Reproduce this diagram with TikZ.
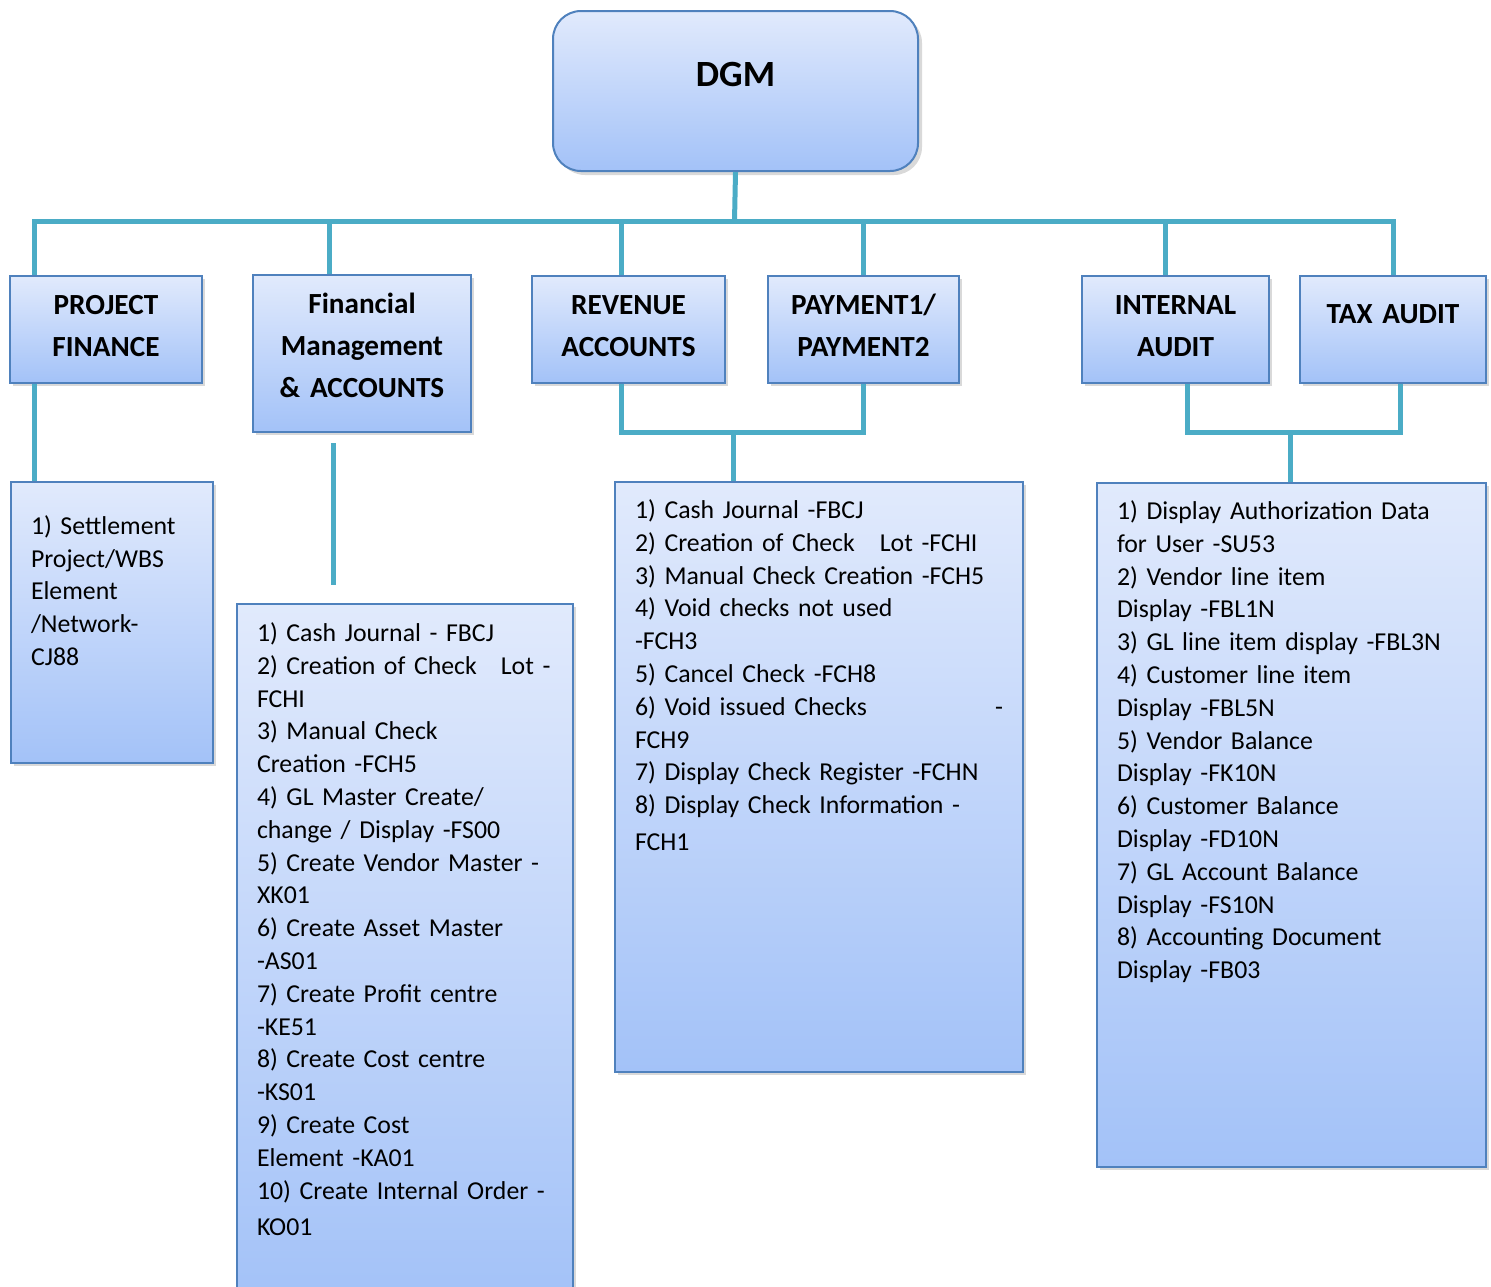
\documentclass[tikz,border=0pt]{standalone}
\usepackage{fontspec}
\setmainfont{Carlito}
\usetikzlibrary{shadows}

\definecolor{boxtop}{RGB}{225,234,252}
\definecolor{boxbot}{RGB}{163,194,248}
\definecolor{boxline}{RGB}{79,129,189}
\definecolor{linkcol}{RGB}{75,172,198}

\tikzstyle{chief} = [rectangle, rounded corners=14pt, draw=boxline, line width=1pt, top color=boxtop, bottom color=boxbot,
align=center, inner sep=0pt, anchor=north west, font=\bfseries\fontsize{18.5}{22}\selectfont,
drop shadow={shadow xshift=2pt, shadow yshift=-2pt, opacity=0.3}]
\tikzstyle{division} = [rectangle, draw=boxline, line width=1pt, top color=boxtop, bottom color=boxbot,
align=center, inner sep=0pt, anchor=north west, font=\bfseries\fontsize{14.6}{21}\selectfont,
text height=19.2pt, text depth=34.3pt, drop shadow={shadow xshift=1.5pt, shadow yshift=-1.5pt, opacity=0.3}]
\tikzstyle{tasklist} = [rectangle, draw=boxline, line width=1pt, top color=boxtop, bottom color=boxbot,
align=left, inner xsep=10pt, inner ysep=0pt, anchor=north west, font=\fontsize{12.9}{16.4}\selectfont,
drop shadow={shadow xshift=1.5pt, shadow yshift=-1.5pt, opacity=0.3}]
\tikzstyle{line} = [draw, linkcol, line width=2.5pt]

\begin{document}
\begin{tikzpicture}[x=0.5pt,y=-0.5pt]
\useasboundingbox (0,0) rectangle (1491,1286);

	%Top node
	\node[chief, text width=182.5pt, text height=37.9pt, text depth=42.1pt](DGM) at (552,10) {DGM};

	%Nodes for each of the sections under DGM
	\node[division, text width=96pt](PF) at (9,275) {PROJECT\\FINANCE};
	\node[division, text width=109pt, text depth=59.3pt](FM) at (252,274) {Financial\\Management\\\& ACCOUNTS};
	\node[division, text width=96.5pt](REV) at (531,275) {REVENUE\\ACCOUNTS};
	\node[division, text width=95.5pt](PAY) at (767,275) {PAYMENT1/\\PAYMENT2};
	\node[division, text width=93.5pt](INT) at (1081,275) {INTERNAL\\AUDIT};
	\node[division, text width=93pt, text height=23.7pt, text depth=29.8pt](TAX) at (1299,275) {TAX AUDIT};

	%Nodes for the transaction lists
	\node[tasklist, text width=81pt, text height=26.1pt, text depth=114.4pt](PFL) at (10,481) {%
	1) Settlement\\Project/WBS\\Element\\/Network-\\CJ88};
	\node[tasklist, text width=148pt, text height=18.7pt, text depth=329.8pt](FML) at (236,603) {%
	1) Cash Journal - FBCJ\\
	2) Creation of Check\hspace{12pt}Lot -\\
	FCHI\\
	3) Manual Check\\
	Creation -FCH5\\
	4) GL Master Create/\\
	change / Display -FS00\\
	5) Create Vendor Master -\\
	XK01\\
	6) Create Asset Master\\
	-AS01\\
	7) Create Profit centre\\
	-KE51\\
	8) Create Cost centre\\
	-KS01\\
	9) Create Cost\\
	Element -KA01\\
	10) Create Internal Order -\\[2pt]
	KO01};
	\node[tasklist, text width=184pt, text height=18.2pt, text depth=276.8pt](RPL) at (614,481) {%
	1) Cash Journal -FBCJ\\
	2) Creation of Check\hspace{12.5pt}Lot -FCHI\\
	3) Manual Check Creation -FCH5\\
	4) Void checks not used\\
	-FCH3\\
	5) Cancel Check -FCH8\\
	6) Void issued Checks\hfill -\\
	FCH9\\
	7) Display Check Register -FCHN\\
	8) Display Check Information -\\[2pt]
	FCH1};
	\node[tasklist, text width=174.5pt, text height=18.2pt, text depth=323.8pt](ATL) at (1096,482) {%
	1) Display Authorization Data\\
	for User -SU53\\
	2) Vendor line item\\
	Display -FBL1N\\
	3) GL line item display -FBL3N\\
	4) Customer line item\\
	Display -FBL5N\\
	5) Vendor Balance\\
	Display -FK10N\\
	6) Customer Balance\\
	Display -FD10N\\
	7) GL Account Balance\\
	Display -FS10N\\
	8) Accounting Document\\
	Display -FB03};

	%Lines from DGM to the sections
	\coordinate (bus) at (734.5,221);
	\path[line] (DGM.south) -- (bus);
	\path[line] (bus) -| ([xshift=-36pt]PF.north);
	\path[line] (bus) -| ([xshift=-16.5pt]FM.north);
	\path[line] (bus) -| ([xshift=-3.75pt]REV.north);
	\path[line] (bus) -| (PAY.north);
	\path[line] (bus) -| ([xshift=-5.25pt]INT.north);
	\path[line] (bus) -| (TAX.north);

	%Lines from the sections to the lists
	\coordinate (pfdrop) at ([xshift=-36pt]PF.south);
	\path[line] (pfdrop) -- (pfdrop |- PFL.north);
	\coordinate (fmgap) at ([xshift=-14.5pt,yshift=-5pt]FM.south);
	\path[line] (fmgap) -- ++(0,142);
	\coordinate (rpjoin) at (733,430);
	\path[line] ([xshift=-3.75pt]REV.south) -- ++(0,48) -| (PAY.south);
	\path[line] (rpjoin) -- (rpjoin |- RPL.north);
	\coordinate (atjoin) at (1290,430);
	\path[line] ([xshift=5.75pt]INT.south) -- ++(0,48) -| ([xshift=3.5pt]TAX.south);
	\path[line] (atjoin) -- (atjoin |- ATL.north);
\end{tikzpicture}
\end{document}
